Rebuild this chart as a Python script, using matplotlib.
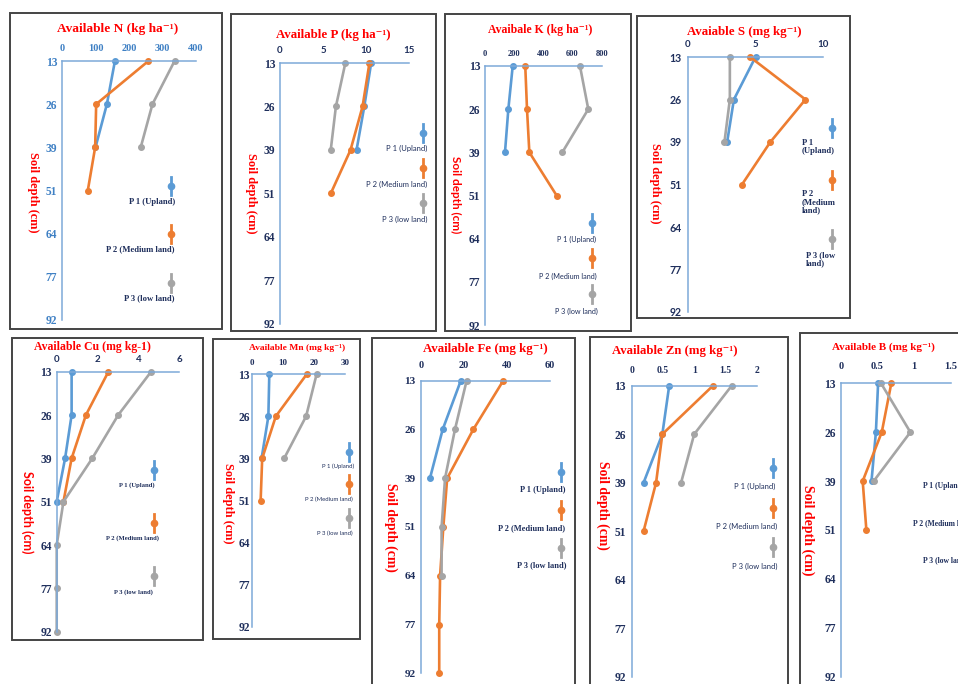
import numpy as np
import matplotlib
matplotlib.use('Agg')
import matplotlib.pyplot as plt
from matplotlib.lines import Line2D
from matplotlib.patches import Rectangle

# soil depth categories (top to bottom)
depth_labels = ['13', '26', '39', '51', '64', '77', '92']
series_names = ['P 1 (Upland)', 'P 2 (Medium land)', 'P 3 (low land)']

n_upland = [158, 134, 100]
n_medium = [258, 102, 99, 77]
n_low = [336, 270, 235]

p_upland = [10.6, 9.8, 8.9]
p_medium = [10.4, 9.6, 8.2, 5.9]
p_low = [7.6, 6.5, 5.9]

k_upland = [190, 160, 137]
k_medium = [276, 288, 304, 491]
k_low = [651, 708, 530]

s_upland = [5.0, 3.4, 2.9]
s_medium = [4.6, 8.7, 6.1, 4.0]
s_low = [3.1, 3.1, 2.7]

cu_upland = [0.73, 0.73, 0.41, 0.0]
cu_medium = [2.53, 1.43, 0.73, 0.33]
cu_low = [4.62, 3.01, 1.74, 0.33, 0.0, 0.0, 0.0]

mn_upland = [5.5, 5.2, 3.0]
mn_medium = [17.6, 7.6, 3.2, 2.7]
mn_low = [20.8, 17.4, 10.3]

fe_upland = [18.6, 10.2, 4.3]
fe_medium = [38.3, 24.4, 12.3, 10.5, 9.0, 8.6, 8.6]
fe_low = [21.3, 15.9, 11.3, 9.7, 9.7]

zn_upland = [0.60, 0.49, 0.19]
zn_medium = [1.30, 0.49, 0.39, 0.19]
zn_low = [1.60, 1.00, 0.79]

b_upland = [0.51, 0.48, 0.42]
b_medium = [0.69, 0.56, 0.30, 0.35]
b_low = [0.55, 0.95, 0.45]

W, H = 958, 684
BLUE, ORANGE, GRAY = '#5B9BD5', '#ED7D31', '#A5A5A5'
RED = '#FF0000'
NAVY = '#1F2F5C'
SPINE = '#7DAAD9'
SERIF = ['Liberation Serif', 'DejaVu Serif']
SANS = ['Lato', 'DejaVu Sans']

fig = plt.figure(figsize=(W / 100, H / 100), dpi=100)


def fx(x):
    return x / W


def fy(y):
    return 1 - y / H


def panel(data, lay):
    # frame around the panel
    x0, y0, x1, y1 = lay['box']
    fig.add_artist(Rectangle((fx(x0), fy(y1)), (x1 - x0) / W, (y1 - y0) / H,
                             transform=fig.transFigure, fill=False,
                             ec='#444444', lw=1.4))
    l, t, r, b = lay['ax']
    ax = fig.add_axes([fx(l), fy(b), (r - l) / W, (b - t) / H])
    ax.set_facecolor('none')
    for vals, c in zip(data, [BLUE, ORANGE, GRAY]):
        ax.plot(vals, range(len(vals)), color=c, lw=1.9, marker='o', ms=4,
                clip_on=False)
    ax.set_xlim(0, lay['xmax'])
    ax.set_ylim(6, 0)
    ticks = np.arange(0, lay['xmax'] + lay['xstep'] / 2, lay['xstep'])
    ax.set_xticks(ticks)
    ax.set_xticklabels(['%g' % v for v in ticks])
    ax.xaxis.tick_top()
    ax.set_yticks(range(len(depth_labels)))
    ax.set_yticklabels(depth_labels)
    tc = lay.get('tick_color', NAVY)
    ax.tick_params(axis='x', length=0, pad=lay.get('xpad', 5.5))
    ax.tick_params(axis='y', length=0, pad=lay.get('ypad', 3.5))
    for lbl in ax.get_xticklabels():
        lbl.set_family(lay['xfont'])
        lbl.set_fontweight('bold')
        lbl.set_fontsize(lay['xfs'])
        lbl.set_color(tc)
    for lbl in ax.get_yticklabels():
        lbl.set_family(lay['yfont'])
        lbl.set_fontweight('bold')
        lbl.set_fontsize(lay['yfs'])
        lbl.set_color(tc)
    for s in ['bottom', 'right']:
        ax.spines[s].set_visible(False)
    for s in ['top', 'left']:
        ax.spines[s].set_color(SPINE)
        ax.spines[s].set_linewidth(1.1)

    tx, ty = lay['title_xy']
    fig.text(fx(tx), fy(ty), lay['title'], ha='center', va='center',
             color=RED, fontsize=lay['title_fs'], family=SERIF,
             fontweight='bold')
    lx, ly = lay['ylab_xy']
    fig.text(fx(lx), fy(ly), 'Soil depth (cm)', ha='center', va='center',
             rotation=270, color=RED, fontsize=lay['ylab_fs'],
             family=lay['ylab_font'], fontweight='bold')

    # legend: short vertical bar with a dot, name underneath
    mx = lay['leg_x']
    for my, c in zip(lay['leg_ys'], [BLUE, ORANGE, GRAY]):
        fig.add_artist(Line2D([fx(mx), fx(mx)], [fy(my - 9), fy(my + 9)],
                              color=c, lw=2, transform=fig.transFigure))
        fig.add_artist(Line2D([fx(mx)], [fy(my)], marker='o', ms=4.5, color=c,
                              transform=fig.transFigure))
    texts = lay.get('leg_texts', series_names)
    wt = 'bold' if lay['leg_font'] == SERIF else 'normal'
    for (px, py), txt in zip(lay['leg_pos'], texts):
        fig.text(fx(px), fy(py), txt, ha=lay.get('leg_ha', 'center'),
                 va=lay.get('leg_va', 'center'), color=NAVY,
                 fontsize=lay['leg_fs'], family=lay['leg_font'],
                 fontweight=wt, linespacing=1.05)
    return ax


panel([n_upland, n_medium, n_low], dict(
    box=(10, 13, 222, 329), ax=(62, 61, 196, 320), xmax=400, xstep=100,
    title='Available N (kg ha⁻¹)', title_xy=(118, 29), title_fs=9.6,
    ylab_xy=(33, 192), ylab_fs=8.9, ylab_font=SERIF,
    xfont=SERIF, xfs=7.5, yfont=SERIF, yfs=8.3, tick_color='#3F80C4',
    leg_x=171, leg_ys=[186, 234, 283],
    leg_pos=[(152, 202), (140, 249), (149, 298)], leg_font=SERIF, leg_fs=6.2))

panel([p_upland, p_medium, p_low], dict(
    box=(231, 14, 436, 331), ax=(280, 63, 409, 324), xmax=15, xstep=5,
    title='Available P (kg ha⁻¹)', title_xy=(333, 35), title_fs=9.3,
    ylab_xy=(251, 193), ylab_fs=8.9, ylab_font=SERIF,
    xfont=SANS, xfs=7, yfont=SERIF, yfs=8.3,
    leg_x=423, leg_ys=[133, 168, 203],
    leg_pos=[(407, 148), (397, 184), (405, 219)], leg_font=SANS, leg_fs=5.5))

panel([k_upland, k_medium, k_low], dict(
    box=(445, 14, 631, 331), ax=(485, 66, 601.7, 325), xmax=800, xstep=200,
    title='Avaibale K (kg ha⁻¹)', title_xy=(540, 30), title_fs=8.5,
    ylab_xy=(456, 195), ylab_fs=8.5, ylab_font=SANS,
    xfont=SERIF, xfs=6, yfont=SERIF, yfs=8.3,
    leg_x=592, leg_ys=[223, 258, 294],
    leg_pos=[(577, 239), (568, 276), (576, 311)], leg_font=SANS, leg_fs=5.2))

panel([s_upland, s_medium, s_low], dict(
    box=(637, 16, 850, 318), ax=(688, 57, 823, 312), xmax=10, xstep=5,
    title='Avaiable S (mg kg⁻¹)', title_xy=(744, 32), title_fs=9.3,
    ylab_xy=(655, 183), ylab_fs=8.9, ylab_font=SERIF,
    xfont=SANS, xfs=7, yfont=SANS, yfs=7.6, ypad=4.8,
    leg_x=832, leg_ys=[128, 180, 239],
    leg_texts=['P 1\n(Upland)', 'P 2\n(Medium\nland)', 'P 3 (low\nland)'],
    leg_pos=[(802, 139), (802, 190), (806, 251)], leg_ha='left', leg_va='top',
    leg_font=SERIF, leg_fs=6.2))

panel([cu_upland, cu_medium, cu_low], dict(
    box=(12, 338, 203, 640), ax=(56.7, 371.7, 179.3, 631.7), xmax=6, xstep=2,
    title='Available Cu (mg kg-1)', title_xy=(92, 347), title_fs=8.5,
    ylab_xy=(27, 512), ylab_fs=9, ylab_font=SANS,
    xfont=SANS, xfs=7, yfont=SERIF, yfs=8.3,
    leg_x=154, leg_ys=[470, 523, 576],
    leg_pos=[(137, 485), (133, 538), (133, 592)], leg_font=SERIF, leg_fs=4.8))

panel([mn_upland, mn_medium, mn_low], dict(
    box=(213, 339, 360, 639), ax=(252.3, 374.3, 345, 626.7), xmax=30, xstep=10,
    title='Available Mn (mg kg⁻¹)', title_xy=(297, 348), title_fs=6.8,
    ylab_xy=(228, 503), ylab_fs=8.9, ylab_font=SERIF,
    xfont=SERIF, xfs=6.5, yfont=SERIF, yfs=8.3, ypad=1.8,
    leg_x=349, leg_ys=[452, 484, 518],
    leg_pos=[(338, 466), (329, 499), (335, 533)], leg_font=SANS, leg_fs=4.3))

panel([fe_upland, fe_medium, fe_low], dict(
    box=(372, 338, 575, 720), ax=(420.7, 380.7, 550, 673.3), xmax=60, xstep=20,
    title='Available Fe (mg kg⁻¹)', title_xy=(485, 349), title_fs=9.3,
    ylab_xy=(391, 527), ylab_fs=9.8, ylab_font=SERIF,
    xfont=SERIF, xfs=7.5, yfont=SERIF, yfs=8.1, xpad=7.5,
    leg_x=561, leg_ys=[472, 510, 548],
    leg_pos=[(543, 490), (532, 528), (542, 565)], leg_font=SERIF, leg_fs=6))

panel([zn_upland, zn_medium, zn_low], dict(
    box=(590, 337, 788, 720), ax=(631.7, 385.7, 756.7, 676.7), xmax=2, xstep=0.5,
    title='Available Zn (mg kg⁻¹)', title_xy=(675, 351), title_fs=9.2,
    ylab_xy=(603, 505), ylab_fs=9.8, ylab_font=SERIF,
    xfont=SERIF, xfs=7, yfont=SERIF, yfs=8.3, xpad=7.5, ypad=4.3,
    leg_x=773, leg_ys=[468, 508, 547],
    leg_pos=[(755, 486), (747, 526), (755, 566)], leg_font=SANS, leg_fs=5.5))

# the B panel runs past the right edge of the page, as in the original
panel([b_upland, b_medium, b_low], dict(
    box=(800, 333, 1000, 720), ax=(840.7, 383.3, 950.7, 676.7), xmax=1.5, xstep=0.5,
    title='Available B (mg kg⁻¹)', title_xy=(883, 347), title_fs=8,
    ylab_xy=(808, 530), ylab_fs=10, ylab_font=SERIF,
    xfont=SERIF, xfs=7.5, yfont=SERIF, yfs=8.3, xpad=9,
    leg_x=990, leg_ys=[470, 508, 545],
    leg_pos=[(923, 486), (913, 523), (923, 560)], leg_ha='left',
    leg_font=SERIF, leg_fs=5.5))

fig.savefig('out.png', dpi=100)
